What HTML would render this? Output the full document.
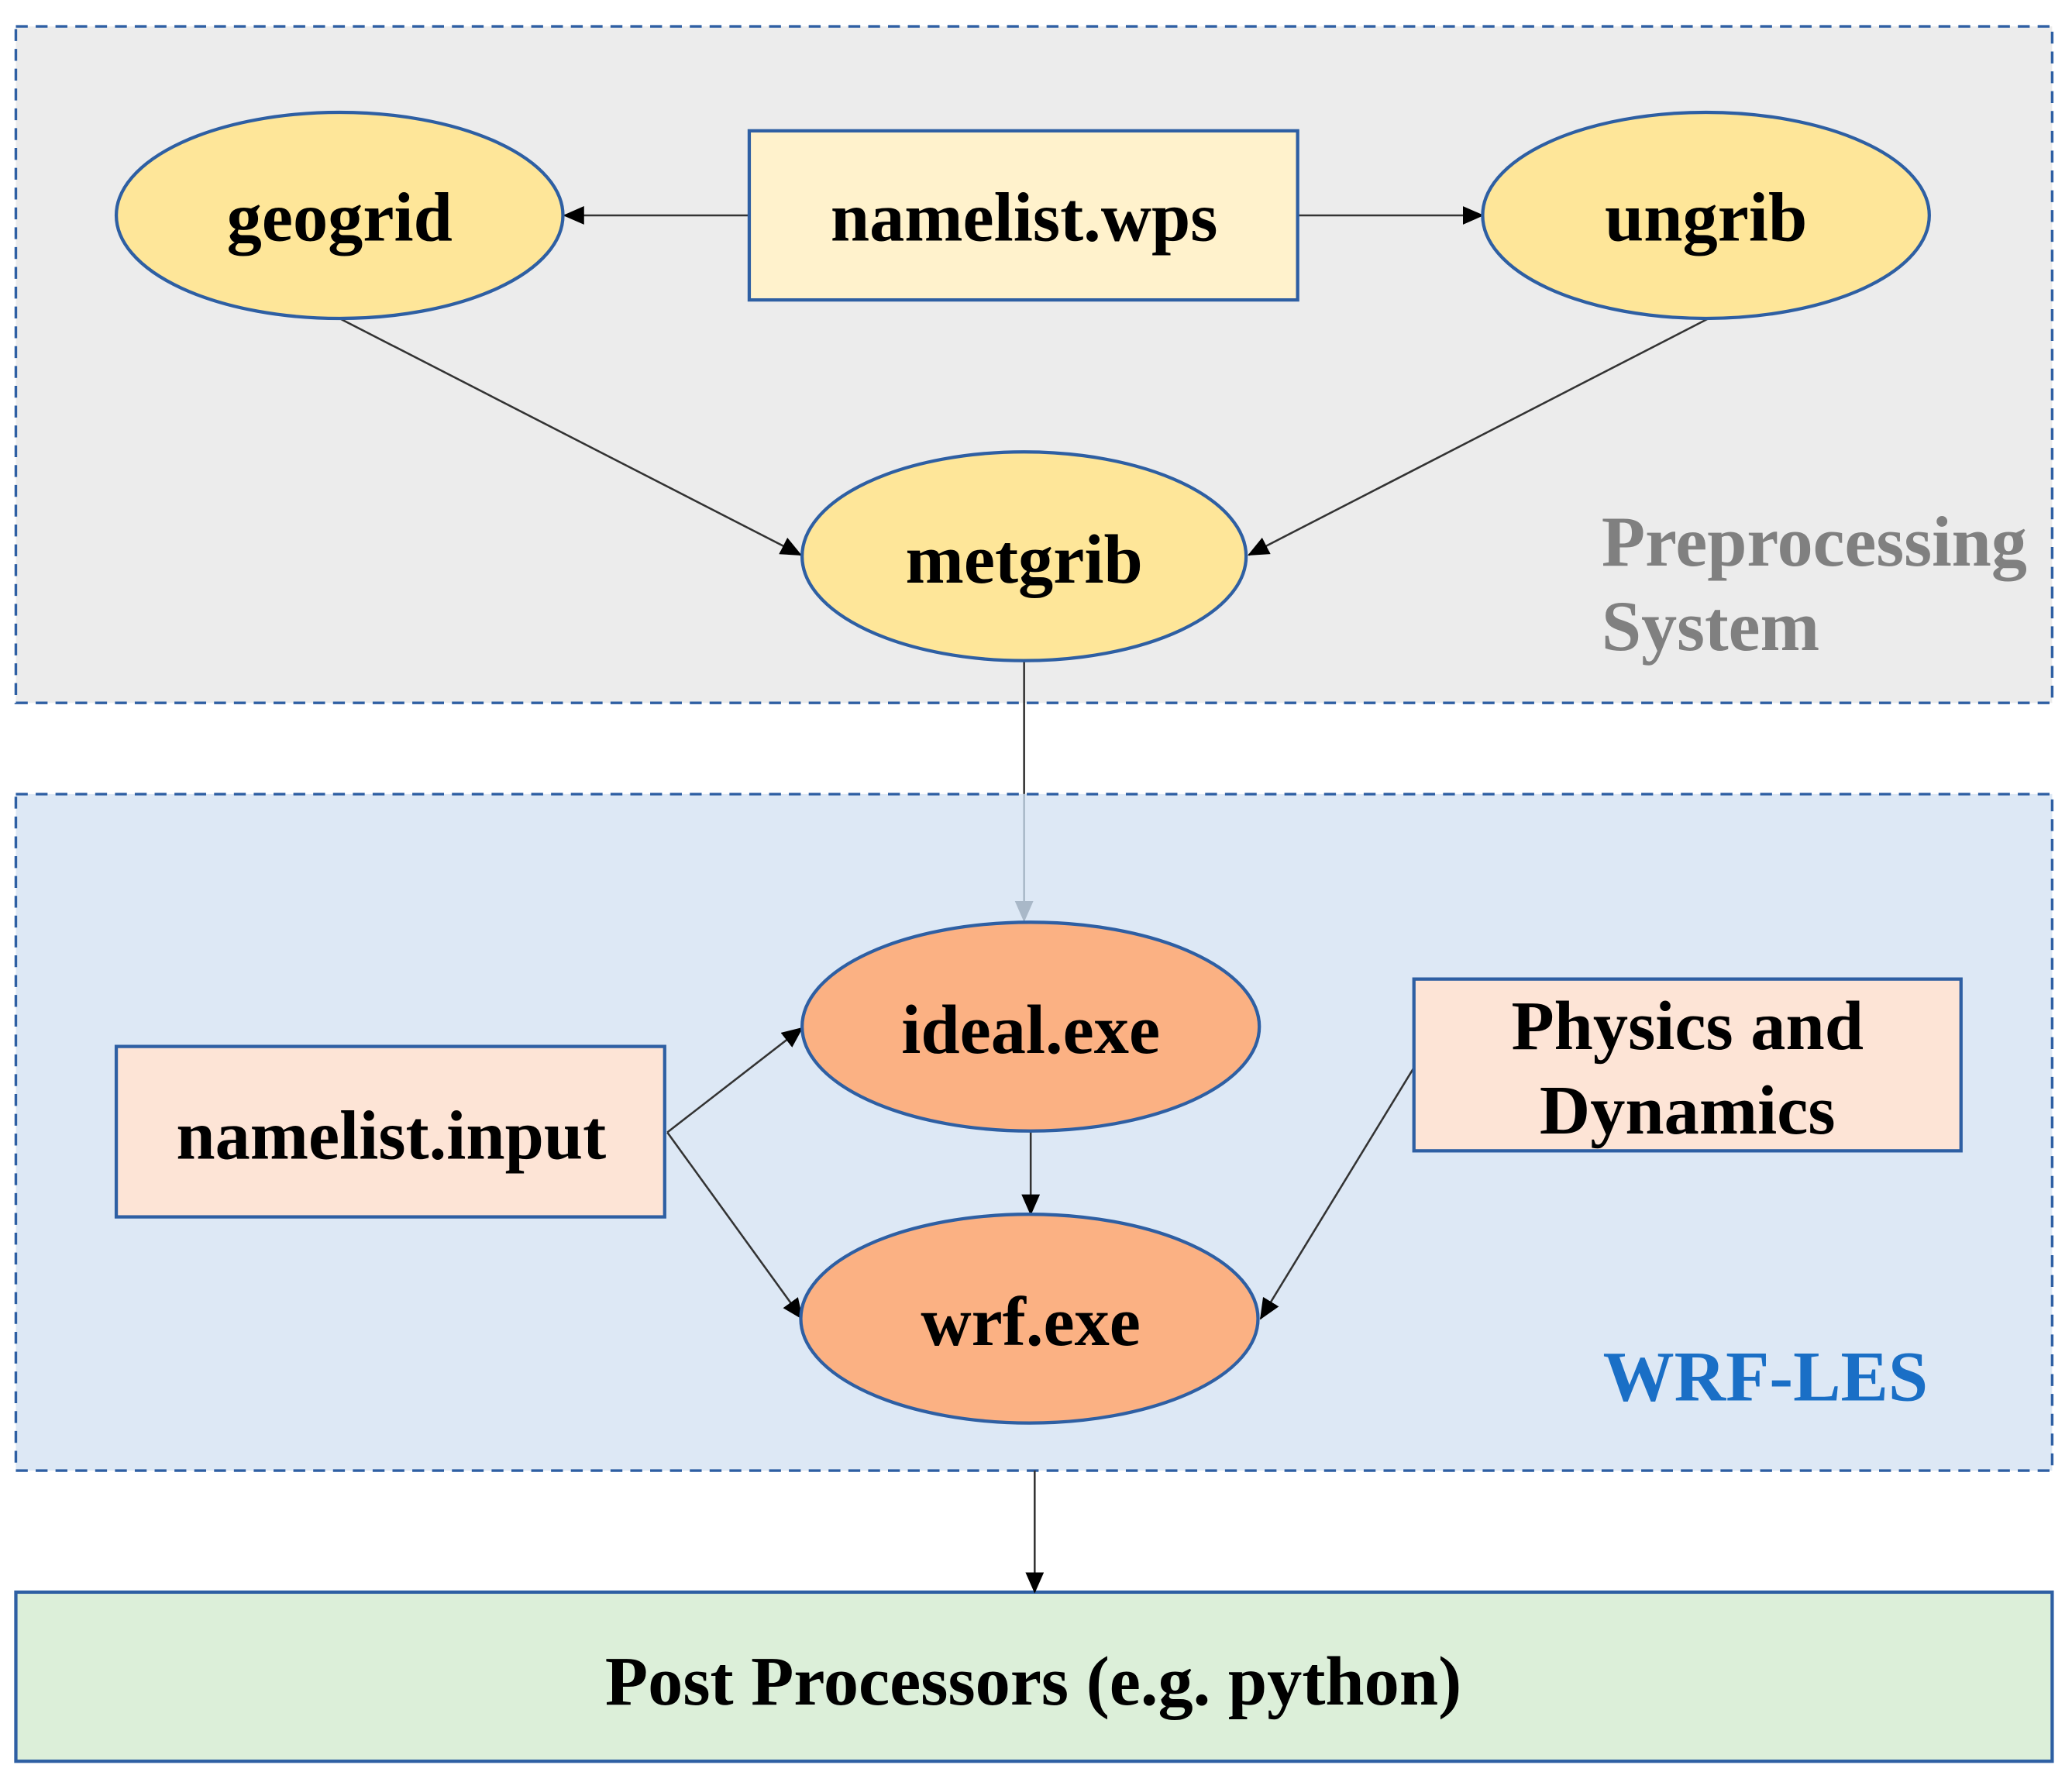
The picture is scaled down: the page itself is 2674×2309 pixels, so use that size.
<!DOCTYPE html>
<html><head><style>html,body{margin:0;padding:0;background:#fff}svg{display:block}</style></head>
<body>
<svg width="2674" height="2309" viewBox="0 0 1568 1354" preserveAspectRatio="none" xmlns="http://www.w3.org/2000/svg">
<defs>
<marker id="a" markerWidth="16" markerHeight="14" refX="15" refY="7" orient="auto" markerUnits="userSpaceOnUse" viewBox="0 0 16 14"><path d="M0,0 L16,7 L0,14 z" fill="#000"/></marker>
<marker id="g" markerWidth="16" markerHeight="14" refX="15" refY="7" orient="auto" markerUnits="userSpaceOnUse" viewBox="0 0 16 14"><path d="M0,0 L16,7 L0,14 z" fill="#a9b8c8"/></marker>
</defs>
<g font-family="Liberation Serif, serif" font-weight="bold" text-anchor="middle">
<rect x="12" y="20" width="1541" height="512" fill="#ececec" stroke="#2e5fa3" stroke-width="2" stroke-dasharray="9,6"/>
<rect x="12" y="601" width="1541" height="512" fill="#dde8f5" stroke="#2e5fa3" stroke-width="2" stroke-dasharray="9,6"/>
<rect x="12" y="1205" width="1541" height="128" fill="#dcefd9" stroke="#2e5fa3" stroke-width="2.5"/>

<line x1="567" y1="163" x2="427" y2="163" stroke="#333" stroke-width="1.5" marker-end="url(#a)"/>
<line x1="982" y1="163" x2="1122" y2="163" stroke="#333" stroke-width="1.5" marker-end="url(#a)"/>
<line x1="257" y1="241" x2="606" y2="420" stroke="#333" stroke-width="1.5" marker-end="url(#a)"/>
<line x1="1293" y1="241" x2="945" y2="420" stroke="#333" stroke-width="1.5" marker-end="url(#a)"/>
<line x1="775" y1="500" x2="775" y2="601" stroke="#333" stroke-width="1.5"/>
<line x1="775" y1="601" x2="775" y2="697" stroke="#a9b8c8" stroke-width="1.5" marker-end="url(#g)"/>
<line x1="505" y1="857" x2="607" y2="778" stroke="#333" stroke-width="1.5" marker-end="url(#a)"/>
<line x1="505" y1="857" x2="607" y2="998" stroke="#333" stroke-width="1.5" marker-end="url(#a)"/>
<line x1="780" y1="856" x2="780" y2="919" stroke="#333" stroke-width="1.5" marker-end="url(#a)"/>
<line x1="1070" y1="808" x2="954" y2="998" stroke="#333" stroke-width="1.5" marker-end="url(#a)"/>
<line x1="783" y1="1113" x2="783" y2="1205" stroke="#333" stroke-width="1.5" marker-end="url(#a)"/>

<ellipse cx="257" cy="163" rx="169" ry="78" fill="#fee699" stroke="#2e5fa3" stroke-width="2.5"/>
<ellipse cx="1291" cy="163" rx="169" ry="78" fill="#fee699" stroke="#2e5fa3" stroke-width="2.5"/>
<ellipse cx="775" cy="421" rx="168" ry="79" fill="#fee699" stroke="#2e5fa3" stroke-width="2.5"/>
<rect x="567" y="99" width="415" height="128" fill="#fff2cc" stroke="#2e5fa3" stroke-width="2.5"/>
<ellipse cx="780" cy="777" rx="173" ry="79" fill="#fbb183" stroke="#2e5fa3" stroke-width="2.5"/>
<ellipse cx="779" cy="998" rx="173" ry="79" fill="#fbb183" stroke="#2e5fa3" stroke-width="2.5"/>
<rect x="88" y="792" width="415" height="129" fill="#fde4d6" stroke="#2e5fa3" stroke-width="2.5"/>
<rect x="1070" y="741" width="414" height="130" fill="#fde4d6" stroke="#2e5fa3" stroke-width="2.5"/>

<g font-size="53" fill="#000">
<text x="257" y="182">geogrid</text>
<text x="775" y="182">namelist.wps</text>
<text x="1291" y="182">ungrib</text>
<text x="775" y="441">metgrib</text>
<text x="780" y="797">ideal.exe</text>
<text x="780" y="1018">wrf.exe</text>
<text x="296" y="877">namelist.input</text>
<text x="1277" y="794">Physics and</text>
<text x="1277" y="858">Dynamics</text>
<text x="782" y="1290">Post Processors (e.g. python)</text>
</g>
<g font-size="54" text-anchor="start">
<text x="1212" y="428" fill="#808080">Preprocessing</text>
<text x="1212" y="492" fill="#808080">System</text>
<text x="1213" y="1060" fill="#1a6fc6">WRF-LES</text>
</g>
</g>
</svg>
</body></html>
